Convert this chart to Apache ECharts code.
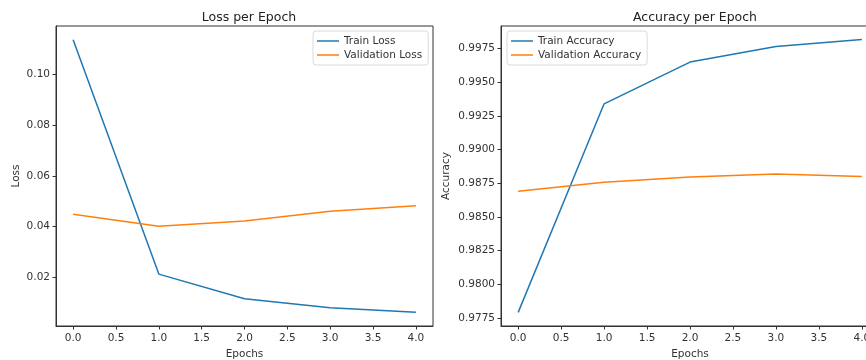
<!DOCTYPE html>
<html>
<head>
<meta charset="utf-8">
<script src="https://cdn.jsdelivr.net/npm/echarts@6/dist/echarts.min.js"></script>
<style>
  html, body { margin: 0; padding: 0; background: #fff; overflow: hidden; }
  #peak { width: 866px; height: 360px; }
</style>
</head>
<body>
<div id="peak"></div>
<script>
// data
const epochs = [0, 1, 2, 3, 4];
const trainLoss = [0.1137, 0.0212, 0.0115, 0.0079, 0.0061];
const valLoss = [0.0448, 0.0401, 0.0422, 0.0460, 0.0482];
const trainAcc = [0.97791, 0.9934, 0.9965, 0.99765, 0.99817];
const valAcc = [0.98691, 0.98757, 0.98797, 0.98819, 0.98801];

// tick labels
const xTicks = [0, 0.5, 1, 1.5, 2, 2.5, 3, 3.5, 4];
const lossTicks = [0.02, 0.04, 0.06, 0.08, 0.10];
const accTicks = [0.9775, 0.98, 0.9825, 0.985, 0.9875, 0.99, 0.9925, 0.995, 0.9975];

const font = 'DejaVu Sans';
const axisColor = '#333';

const pairs = (ys) => epochs.map((x, i) => [x, ys[i]]);

const xAxisOpt = (gridIndex) => ({
  type: 'value',
  gridIndex: gridIndex,
  min: -0.2,
  max: 4.2,
  name: 'Epochs',
  nameLocation: 'middle',
  nameGap: 21,
  nameTextStyle: { color: axisColor, fontFamily: font, fontSize: 10.5 },
  axisLine: { show: true, onZero: false, lineStyle: { color: axisColor, width: 1 } },
  axisTick: { show: true, length: 3.5, customValues: xTicks, lineStyle: { color: axisColor } },
  axisLabel: {
    customValues: xTicks,
    margin: 7,
    color: axisColor,
    fontFamily: font,
    fontSize: 10.5,
    formatter: (v) => v.toFixed(1),
  },
  splitLine: { show: false },
});

const yAxisOpt = (gridIndex, min, max, ticks, digits, name, gap) => ({
  type: 'value',
  gridIndex: gridIndex,
  min: min,
  max: max,
  name: name,
  nameLocation: 'middle',
  nameGap: gap,
  nameTextStyle: { color: axisColor, fontFamily: font, fontSize: 10.5 },
  axisLine: { show: true, onZero: false, lineStyle: { color: axisColor, width: 1 } },
  axisTick: { show: true, length: 3.5, customValues: ticks, lineStyle: { color: axisColor } },
  axisLabel: {
    customValues: ticks,
    margin: 6,
    color: axisColor,
    fontFamily: font,
    fontSize: 10.5,
    formatter: (v) => v.toFixed(digits),
  },
  splitLine: { show: false },
});

const lineSeries = (name, ys, color, idx) => ({
  name: name,
  type: 'line',
  xAxisIndex: idx,
  yAxisIndex: idx,
  data: pairs(ys),
  showSymbol: false,
  symbol: 'none',
  lineStyle: { color: color, width: 1.5 },
  itemStyle: { color: color },
  animation: false,
});

const legendOpt = (left, names) => ({
  left: left,
  top: 31,
  orient: 'vertical',
  data: names,
  icon: 'rect',
  itemWidth: 22,
  itemHeight: 1.5,
  itemGap: 2,
  padding: [4, 6, 4, 4],
  borderColor: '#d9d9d9',
  borderWidth: 1,
  borderRadius: 3,
  backgroundColor: 'rgba(255,255,255,0.8)',
  textStyle: { color: axisColor, fontFamily: font, fontSize: 10.5, lineHeight: 12 },
});

const el = document.querySelector('#peak');
const chart = echarts.init(el, null, { renderer: 'canvas' });

// the right panel runs past the page edge, as in the reference
const option = {
  animation: false,
  title: [
    { text: 'Loss per Epoch', left: 244, top: 6, textAlign: 'center',
      textStyle: { fontFamily: font, fontSize: 12.5, fontWeight: 'normal', color: '#222' } },
    { text: 'Accuracy per Epoch', left: 690, top: 6, textAlign: 'center',
      textStyle: { fontFamily: font, fontSize: 12.5, fontWeight: 'normal', color: '#222' } },
  ],
  grid: [
    { left: 56, right: 433, top: 26, bottom: 34, outerBoundsMode: 'none',
      show: true, borderColor: axisColor, borderWidth: 1 },
    { left: 501, right: -13, top: 26, bottom: 34, outerBoundsMode: 'none',
      show: true, borderColor: axisColor, borderWidth: 1 },
  ],
  legend: [
    legendOpt(313, ['Train Loss', 'Validation Loss']),
    legendOpt(507, ['Train Accuracy', 'Validation Accuracy']),
  ],
  xAxis: [xAxisOpt(0), xAxisOpt(1)],
  yAxis: [
    yAxisOpt(0, 0.00072, 0.1191, lossTicks, 2, 'Loss', 34),
    yAxisOpt(1, 0.9769, 0.99918, accTicks, 4, 'Accuracy', 49),
  ],
  series: [
    lineSeries('Train Loss', trainLoss, '#1f77b4', 0),
    lineSeries('Validation Loss', valLoss, '#ff7f0e', 0),
    lineSeries('Train Accuracy', trainAcc, '#1f77b4', 1),
    lineSeries('Validation Accuracy', valAcc, '#ff7f0e', 1),
  ],
};

chart.setOption(option, true);
window.addEventListener('resize', () => {
  chart.resize();
});
</script>
</body>
</html>
